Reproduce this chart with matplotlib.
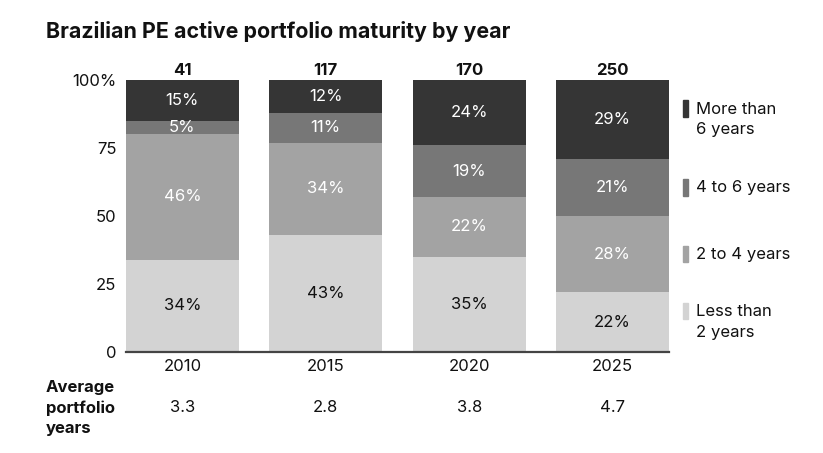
import numpy as np
import matplotlib
matplotlib.use("Agg")
import matplotlib.pyplot as plt
import matplotlib.transforms as mtransforms

plt.rcParams['font.family'] = ['Inter', 'DejaVu Sans']

years = ["2010", "2015", "2020", "2025"]
totals = ["41", "117", "170", "250"]
avg_years = ["3.3", "2.8", "3.8", "4.7"]
series_names = ["Less than\n2 years", "2 to 4 years", "4 to 6 years", "More than\n6 years"]
less_2 = [34, 43, 35, 22]
two_4 = [46, 34, 22, 28]
four_6 = [5, 11, 19, 21]
more_6 = [15, 12, 24, 29]

colors = ["#d3d3d3", "#a3a3a3", "#777777", "#353535"]
text_colors = ["#111111", "white", "white", "white"]
fs = 12

fig = plt.figure(figsize=(8.23, 4.53), dpi=100)
ax = fig.add_axes([126 / 823, 1 - 352 / 453, (669 - 126) / 823, (352 - 80) / 453])

x = np.arange(len(years))
width = 0.787
bottom = np.zeros(len(years))
for vals, col, tcol in zip([less_2, two_4, four_6, more_6], colors, text_colors):
    vals = np.array(vals)
    ax.bar(x, vals, width, bottom=bottom, color=col, edgecolor="none")
    for xi, v, b in zip(x, vals, bottom):
        ax.text(xi, b + v / 2, f"{v}%", ha="center", va="center", fontsize=fs, color=tcol)
    bottom = bottom + vals

ax.set_xlim(-width / 2, len(years) - 1 + width / 2)
ax.set_ylim(0, 100)
for s in ["top", "right", "left"]:
    ax.spines[s].set_visible(False)
ax.spines["bottom"].set_color("#444444")
ax.spines["bottom"].set_linewidth(1.6)
ax.set_yticks([0, 25, 50, 75, 100])
ax.set_yticklabels(["0", "25", "50", "75", "100%"], fontsize=fs, color="#111111")
ax.tick_params(axis="y", length=0, pad=7)
ax.set_xticks(x)
ax.set_xticklabels(years, fontsize=fs, color="#111111")
ax.tick_params(axis="x", length=0, pad=5)

# totals above bars
for xi, t in zip(x, totals):
    ax.text(xi, 100.8, t, ha="center", va="bottom", fontsize=fs, fontweight="bold", color="#111111")

# average portfolio years row
blend = mtransforms.blended_transform_factory(ax.transData, fig.transFigure)
for xi, a in zip(x, avg_years):
    ax.text(xi, 1 - 408 / 453, a, ha="center", va="center", fontsize=fs, color="#111111", transform=blend)
fig.text(46 / 823, 1 - 408 / 453, "Average\nportfolio\nyears", ha="left", va="center",
         fontsize=fs, fontweight="bold", color="#111111", linespacing=1.4)

# legend aligned to last bar segments
last = [less_2[-1], two_4[-1], four_6[-1], more_6[-1]]
cum = np.cumsum([0] + last)
lblend = mtransforms.blended_transform_factory(fig.transFigure, ax.transData)
for i, (name, col) in enumerate(zip(series_names, colors)):
    yc = (cum[i] + cum[i + 1]) / 2
    nlines = name.count("\n") + 1
    ax.text(696 / 823, yc, name, ha="left", va="center", fontsize=fs, color="#111111",
            transform=lblend, linespacing=1.45, clip_on=False)
    # marker aligned with first line
    y_first = yc + (nlines - 1) * 4.0
    ax.add_patch(plt.Rectangle((683 / 823, y_first - 3.0), 4.5 / 823, 6.0, color=col,
                               transform=lblend, clip_on=False))

fig.text(46 / 823, 1 - 32 / 453, "Brazilian PE active portfolio maturity by year", ha="left", va="center",
         fontsize=15.4, fontweight="bold", color="#111111")

fig.savefig("out.png", dpi=100)
